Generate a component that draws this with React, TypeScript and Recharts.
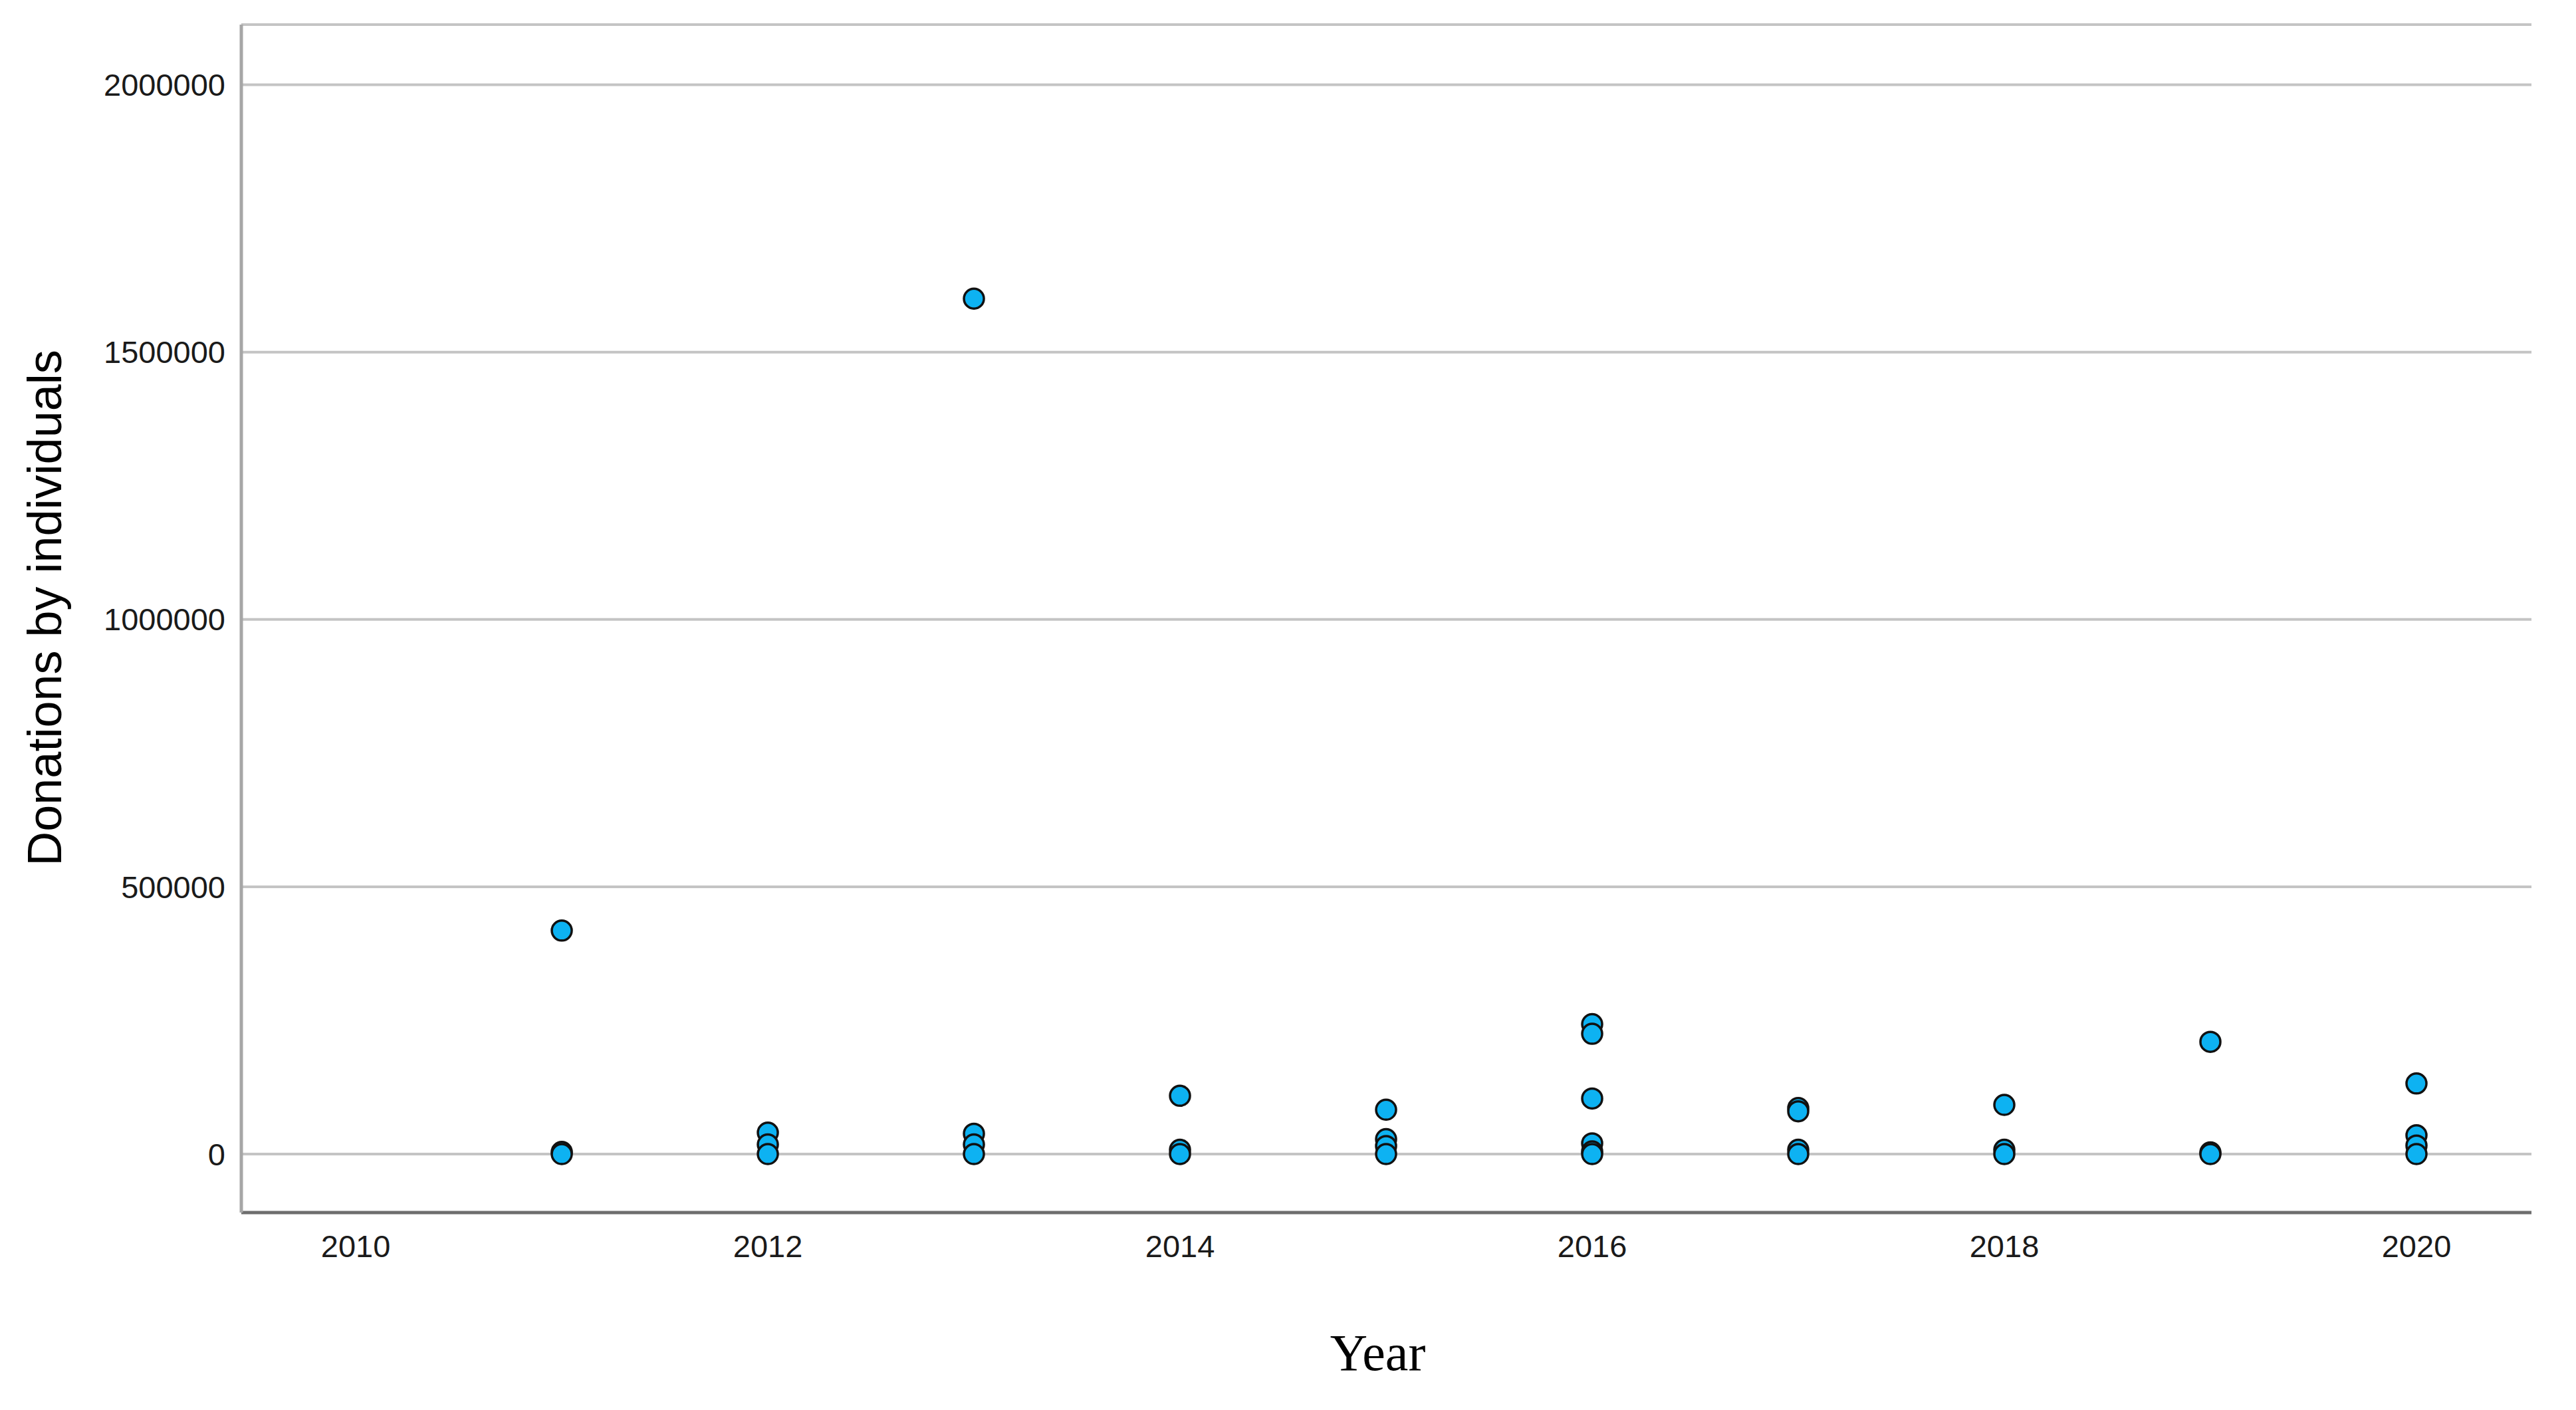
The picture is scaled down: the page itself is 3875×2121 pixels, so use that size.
import { ScatterChart, Scatter, XAxis, YAxis, CartesianGrid, Label } from "recharts";

// donations by individuals, one list per year
const years = [2011, 2012, 2013, 2014, 2015, 2016, 2017, 2018, 2019, 2020];
const donations2011 = [418000, 4000, 0];
const donations2012 = [40000, 18000, 0];
const donations2013 = [1600000, 38000, 18000, 0];
const donations2014 = [109000, 8000, 0];
const donations2015 = [83000, 28000, 15000, 0];
const donations2016 = [243000, 225000, 104000, 20000, 5000, 0];
const donations2017 = [86000, 80000, 8000, 0];
const donations2018 = [92000, 8000, 0];
const donations2019 = [210000, 3000, 0];
const donations2020 = [132000, 35000, 16000, 0];

const yTicks = [0, 500000, 1000000, 1500000, 2000000];
const xTicks = [2010, 2012, 2014, 2016, 2018, 2020];

const byYear = [
  donations2011,
  donations2012,
  donations2013,
  donations2014,
  donations2015,
  donations2016,
  donations2017,
  donations2018,
  donations2019,
  donations2020,
];

const points = years.flatMap((year, i) =>
  byYear[i].map((value) => ({ year, value }))
);

const tickStyle = { fontFamily: "'Liberation Sans', Arial, sans-serif", fontSize: 47, fill: "#1a1a1a" };

const Dot = (props: any) => {
  const { cx, cy } = props;
  return <circle cx={cx} cy={cy} r={15} fill="#0db2f2" stroke="#111" strokeWidth={3.5} />;
};

const YTitle = (props: any) => {
  const vb = props.viewBox;
  const x = vb.x + 92;
  const y = vb.y + vb.height / 2 - 16;
  return (
    <text
      x={x}
      y={y}
      transform={`rotate(-90, ${x}, ${y})`}
      textAnchor="middle"
      fontFamily="'Liberation Sans', Arial, sans-serif"
      fontSize={72}
      fill="#000"
    >
      Donations by individuals
    </text>
  );
};

const XTitle = (props: any) => {
  const vb = props.viewBox;
  return (
    <text
      x={vb.x + vb.width / 2 - 13}
      y={vb.y + 237}
      textAnchor="middle"
      fontFamily="'Liberation Serif', 'Times New Roman', serif"
      fontSize={78}
      fill="#000"
    >
      Year
    </text>
  );
};

export default function App() {
  return (
    <div style={{ position: "absolute", left: 0, top: 0, width: 3875, height: 2121, background: "#fff" }}>
      <ScatterChart width={3875} height={2121} margin={{ top: 37, right: 67, bottom: 0, left: 0 }}>
        <CartesianGrid horizontal vertical={false} stroke="#c4c4c4" strokeWidth={4} />
        <XAxis
          type="number"
          dataKey="year"
          domain={[2009.445, 2020.558]}
          ticks={xTicks}
          allowDataOverflow
          height={297}
          tickLine={false}
          tickMargin={28}
          axisLine={{ stroke: "#6e6e6e", strokeWidth: 5 }}
          tick={tickStyle}
        >
          <Label content={XTitle} />
        </XAxis>
        <YAxis
          type="number"
          dataKey="value"
          domain={[-109400, 2112600]}
          ticks={yTicks}
          allowDataOverflow
          width={363}
          tickLine={false}
          tickMargin={18}
          axisLine={{ stroke: "#a6a6a6", strokeWidth: 5 }}
          tick={tickStyle}
        >
          <Label content={YTitle} />
        </YAxis>
        <Scatter data={points} shape={Dot} isAnimationActive={false} />
      </ScatterChart>
    </div>
  );
}
